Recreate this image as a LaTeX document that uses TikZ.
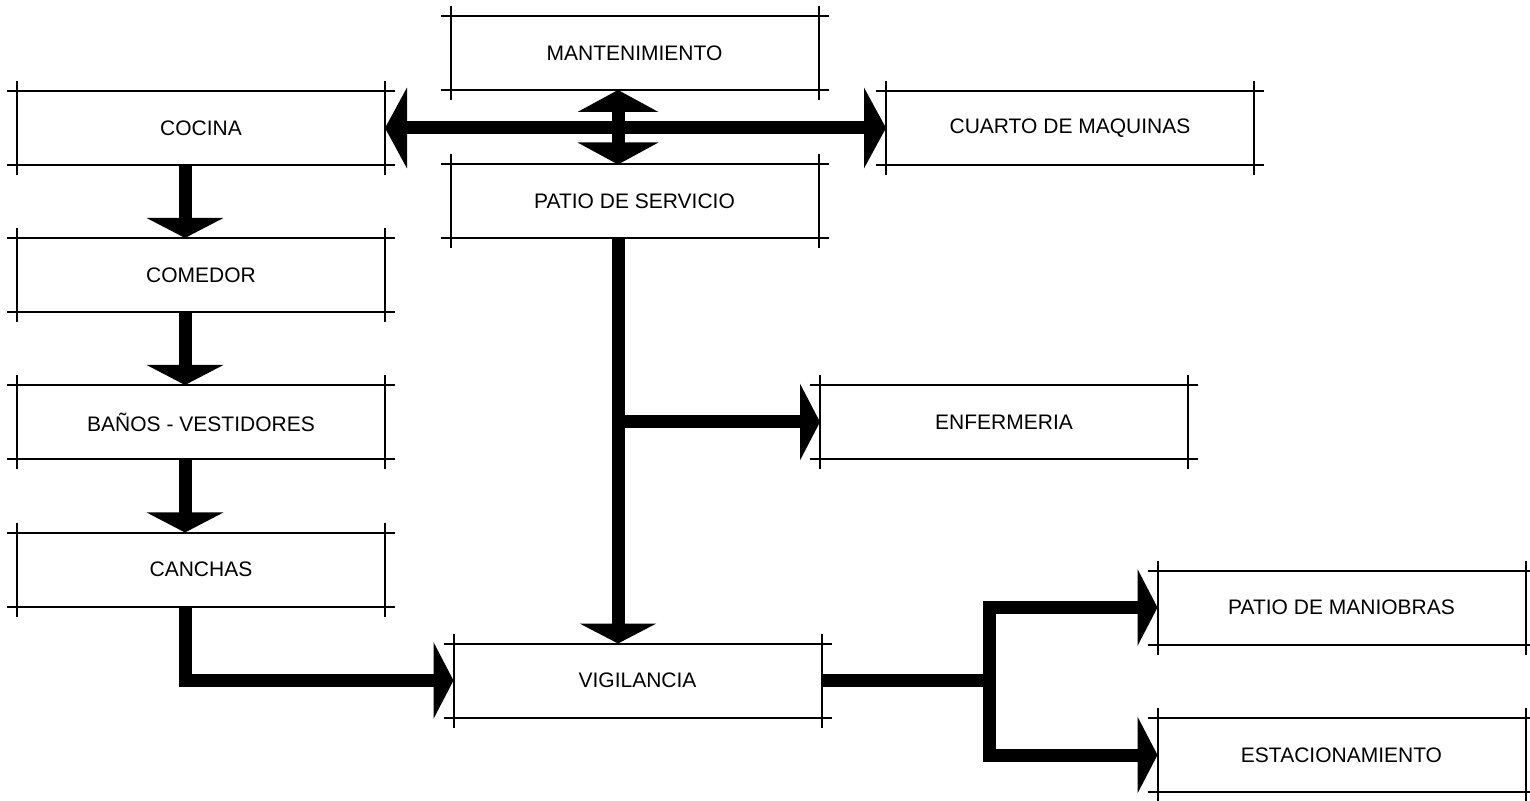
\documentclass[tikz,border=0pt]{standalone}
\usepackage{fontspec}
\setmainfont{Liberation Sans}
\usetikzlibrary{arrows.meta, calc}

\tikzset{
  room/.style={minimum width=184pt, minimum height=37pt, inner sep=0pt, outer sep=0pt,
    font=\fontsize{10.5}{12}\selectfont},
  wall/.style={line width=1pt, shorten <=-5pt, shorten >=-5pt},
  flow/.style={line width=6.5pt, line join=miter, -{Triangle[length=10pt, width=38pt]}},
  flowboth/.style={line width=6.5pt, {Triangle[length=11pt, width=40pt]}-{Triangle[length=11pt, width=40pt]}},
}

\begin{document}
\begin{tikzpicture}[x=0.5pt, y=-0.5pt]
\useasboundingbox (0,0) rectangle (1530,801);

% rooms
\node[room] (cocina)  at (201,128)    {COCINA};
\node[room] (mant)    at (634.5,53)   {MANTENIMIENTO};
\node[room] (patio)   at (634.5,201.5) {PATIO DE SERVICIO};
\node[room] (cuarto)  at (1070,128)   {CUARTO DE MAQUINAS};
\node[room] (comedor) at (201,275)    {COMEDOR};
\node[room] (banos)   at (201,422)    {BAÑOS - VESTIDORES};
\node[room] (canchas) at (201,569.5)  {CANCHAS};
\node[room] (enf)     at (1004,422)   {ENFERMERIA};
\node[room] (vig)     at (637.5,680.5) {VIGILANCIA};
\node[room] (man)     at (1341.5,607.5) {PATIO DE MANIOBRAS};
\node[room] (est)     at (1341.5,755) {ESTACIONAMIENTO};

% box outlines with crossing corners
\foreach \n in {cocina,mant,patio,cuarto,comedor,banos,canchas,enf,vig,man,est} {
  \draw[wall] (\n.north west) -- (\n.north east);
  \draw[wall] (\n.south west) -- (\n.south east);
  \draw[wall] (\n.north west) -- (\n.south west);
  \draw[wall] (\n.north east) -- (\n.south east);
}

% guide lines for the shafts
\coordinate (lspine) at (185,0);
\coordinate (spine)  at (618,0);
\coordinate (fork)   at (989,0);

% service links
\draw[flowboth] (cocina.east) -- (cuarto.west);
\draw[flowboth] (mant.south -| spine) -- (patio.north -| spine);

% left column
\draw[flow] (cocina.south -| lspine) -- (comedor.north -| lspine);
\draw[flow] (comedor.south -| lspine) -- (banos.north -| lspine);
\draw[flow] (banos.south -| lspine) -- (canchas.north -| lspine);
\draw[flow] (canchas.south -| lspine) |- (vig.west);

% middle spine
\draw[flow] (patio.south -| spine) -- (vig.north -| spine);
\draw[flow] (enf.west -| spine) -- (enf.west);

% exits
\draw[flow] (vig.east) -| (fork |- man.west) -- (man.west);
\draw[flow] (vig.east -| fork) |- (est.west);
\end{tikzpicture}
\end{document}
